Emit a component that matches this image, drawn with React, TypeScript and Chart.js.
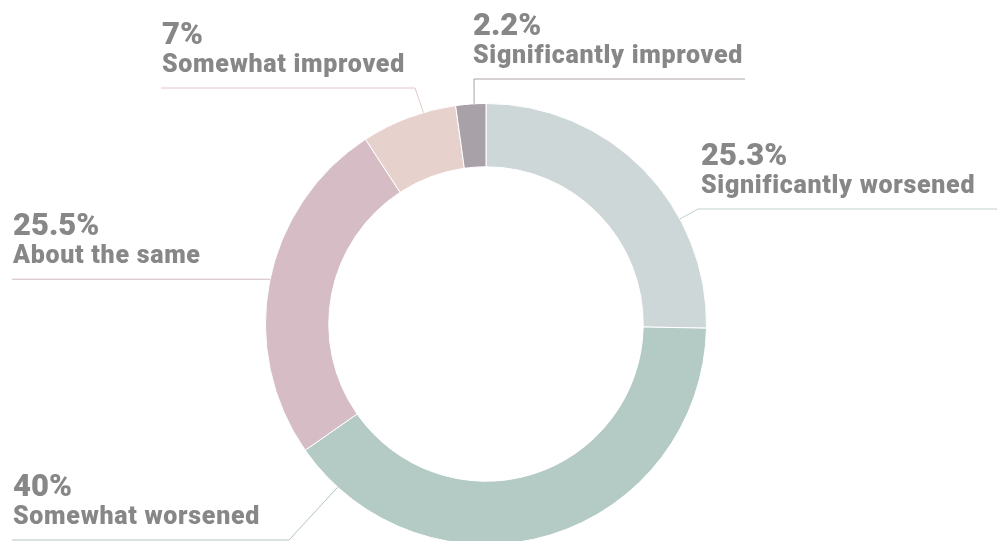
import React, { useEffect, useRef } from "react";
import { Chart, registerables } from "chart.js";

Chart.register(...registerables);

// ---- data ----
const categories = [
  "Significantly worsened",
  "Somewhat worsened",
  "About the same",
  "Somewhat improved",
  "Significantly improved",
];
const shares = [25.3, 40, 25.5, 7, 2.2];
const percentLabels = ["25.3%", "40%", "25.5%", "7%", "2.2%"];

// ---- styles ----
const sliceColors = ["#cdd7d8", "#b4cac4", "#d5bcc5", "#e6d1cd", "#a9a1a8"];
const lineColors = ["#c1d0cf", "#b0c7c1", "#d3bac3", "#e0cac6", "#a9a1a8"];
const textColor = "#878787";

// leader layout: t = fraction along the arc where the leader starts
const leaderLayout = [
  { t: 0.676, elbow: [698, 209], endX: 997, textX: 701 },
  { t: 0.911, elbow: [289, 540], endX: 12, textX: 13 },
  { t: 0.508, elbow: null, endX: 12, textX: 13 },
  { t: 0.66, elbow: [415, 88], endX: 161, textX: 162 },
  { t: 0.61, elbow: [474, 79], endX: 745, textX: 473 },
];

const leaderPlugin = {
  id: "leaderLabels",
  afterDatasetsDraw(chart: any) {
    const ctx = chart.ctx as any;
    const meta = chart.getDatasetMeta(0);
    meta.data.forEach((arc: any, i: number) => {
      const p = arc.getProps(["x", "y", "startAngle", "endAngle", "outerRadius"], true);
      const L = leaderLayout[i];
      const a = p.startAngle + (p.endAngle - p.startAngle) * L.t;
      const ax = p.x + Math.cos(a) * p.outerRadius;
      const ay = p.y + Math.sin(a) * p.outerRadius;
      const ex = L.elbow ? L.elbow[0] : ax;
      const ey = L.elbow ? L.elbow[1] : ay;
      ctx.save();
      ctx.strokeStyle = lineColors[i];
      ctx.lineWidth = 1;
      ctx.beginPath();
      ctx.moveTo(ax, ay);
      ctx.lineTo(ex, ey);
      ctx.lineTo(L.endX, ey);
      ctx.stroke();
      ctx.fillStyle = textColor;
      ctx.textAlign = "left";
      ctx.textBaseline = "alphabetic";
      ctx.letterSpacing = "0px";
      ctx.font = "900 31px Roboto";
      ctx.fillText(percentLabels[i], L.textX, ey - 44);
      ctx.letterSpacing = "0.7px";
      ctx.font = "900 25px Roboto";
      ctx.fillText(categories[i], L.textX, ey - 16);
      ctx.restore();
    });
  },
};

export default function App() {
  const ref = useRef<HTMLCanvasElement | null>(null);
  useEffect(() => {
    if (!ref.current) return;
    const chart = new Chart(ref.current, {
      type: "doughnut",
      data: {
        labels: categories,
        datasets: [
          {
            data: shares,
            backgroundColor: sliceColors,
            borderColor: "#ffffff",
            borderWidth: 1,
          },
        ],
      },
      options: {
        responsive: false,
        animation: false,
        cutout: "71.3%",
        layout: { padding: { left: 265, right: 290, top: 103, bottom: 55 } },
        plugins: { legend: { display: false }, tooltip: { enabled: false } },
      },
      plugins: [leaderPlugin],
    });
    return () => chart.destroy();
  }, []);
  return (
    <div
      style={{
        position: "fixed",
        left: 0,
        top: 0,
        width: 997,
        height: 541,
        overflow: "hidden",
        background: "#ffffff",
      }}
    >
      <canvas ref={ref} width={997} height={600} style={{ display: "block" }} />
    </div>
  );
}
